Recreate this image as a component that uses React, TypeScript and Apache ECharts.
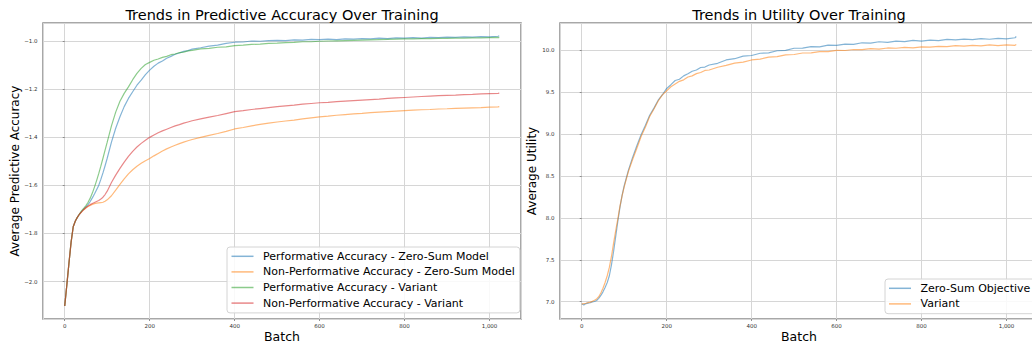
import React, { useEffect, useRef } from "react";
import * as echarts from "echarts";

// Training batches at which values were read
const batches = [
  0, 5, 10, 15, 20, 25, 30, 35, 40, 45, 50, 55, 60, 65, 70, 75, 80, 85, 90, 95, 100,
  110, 120, 130, 140, 150, 160, 170, 180, 190, 200, 210, 220, 230, 240, 250, 260, 270, 280, 290, 300,
  320, 340, 360, 380, 400, 420, 440, 460, 480, 500, 520, 540, 560, 580, 600, 620, 640, 660, 680, 700,
  720, 740, 760, 780, 800, 820, 840, 860, 880, 900, 920, 940, 960, 980, 1000, 1020,
  1023,
];

// Left chart: Average Predictive Accuracy
const perfZeroSum = [
  -2.102, -2.013, -1.923, -1.836, -1.772, -1.748, -1.732, -1.719, -1.708, -1.699, -1.69, -1.68, -1.667, -1.652, -1.636, -1.618, -1.6, -1.575, -1.548, -1.518, -1.487,
  -1.42, -1.362, -1.314, -1.272, -1.238, -1.21, -1.183, -1.162, -1.139, -1.12, -1.104, -1.091, -1.082, -1.071, -1.063, -1.054, -1.049, -1.042, -1.039, -1.033,
  -1.027, -1.02, -1.016, -1.009, -1.004, -1.003, -0.999, -1.0, -0.997, -0.996, -0.997, -0.994, -0.995, -0.992, -0.993, -0.991, -0.993, -0.99, -0.991, -0.989,
  -0.99, -0.987, -0.989, -0.986, -0.987, -0.985, -0.987, -0.984, -0.985, -0.983, -0.984, -0.982, -0.983, -0.981, -0.982, -0.979,
  -0.978,
];
const nonPerfZeroSum = [
  -2.102, -2.013, -1.923, -1.836, -1.772, -1.748, -1.732, -1.719, -1.71, -1.701, -1.694, -1.688, -1.683, -1.679, -1.676, -1.674, -1.673, -1.672, -1.67, -1.666, -1.66,
  -1.643, -1.62, -1.596, -1.573, -1.552, -1.535, -1.52, -1.508, -1.497, -1.488, -1.477, -1.467, -1.457, -1.448, -1.44, -1.433, -1.426, -1.42, -1.414, -1.409,
  -1.4, -1.392, -1.384, -1.375, -1.365, -1.359, -1.352, -1.346, -1.341, -1.336, -1.332, -1.328, -1.323, -1.319, -1.315, -1.312, -1.308, -1.305, -1.302, -1.3,
  -1.297, -1.295, -1.293, -1.291, -1.289, -1.287, -1.285, -1.284, -1.282, -1.281, -1.279, -1.278, -1.277, -1.276, -1.274, -1.273,
  -1.272,
];
const perfVariant = [
  -2.102, -2.013, -1.923, -1.836, -1.772, -1.748, -1.732, -1.718, -1.705, -1.695, -1.684, -1.67, -1.653, -1.632, -1.607, -1.58, -1.551, -1.52, -1.487, -1.453, -1.42,
  -1.352, -1.295, -1.25, -1.217, -1.19, -1.16, -1.134, -1.113, -1.097, -1.088, -1.079, -1.074, -1.067, -1.063, -1.056, -1.053, -1.047, -1.045, -1.04, -1.038,
  -1.032, -1.03, -1.025, -1.023, -1.018, -1.016, -1.013, -1.012, -1.009, -1.008, -1.006, -1.005, -1.002, -1.002, -1.0, -0.999, -0.998, -0.997, -0.996, -0.995,
  -0.994, -0.993, -0.992, -0.991, -0.99, -0.99, -0.989, -0.989, -0.988, -0.988, -0.987, -0.987, -0.986, -0.986, -0.985, -0.984,
  -0.985,
];
const nonPerfVariant = [
  -2.102, -2.013, -1.923, -1.836, -1.772, -1.748, -1.732, -1.719, -1.709, -1.7, -1.692, -1.686, -1.68, -1.675, -1.671, -1.667, -1.663, -1.657, -1.649, -1.638, -1.624,
  -1.588, -1.557, -1.529, -1.503, -1.479, -1.458, -1.44, -1.425, -1.412, -1.4, -1.39, -1.381, -1.373, -1.366, -1.359, -1.352, -1.347, -1.341, -1.336, -1.331,
  -1.323, -1.316, -1.309, -1.301, -1.293, -1.289, -1.284, -1.28, -1.276, -1.272, -1.269, -1.266, -1.262, -1.259, -1.256, -1.254, -1.251, -1.249, -1.247, -1.245,
  -1.243, -1.241, -1.238, -1.236, -1.234, -1.232, -1.23, -1.228, -1.226, -1.225, -1.224, -1.222, -1.221, -1.219, -1.218, -1.217,
  -1.216,
];

// Right chart: Average Utility
const utilZeroSum = [
  6.975, 6.962, 6.978, 6.984, 6.988, 6.998, 7.003, 7.015, 7.04, 7.075, 7.118, 7.17, 7.228, 7.31, 7.44, 7.6, 7.78, 7.96, 8.125, 8.27, 8.385,
  8.57, 8.725, 8.865, 8.995, 9.105, 9.225, 9.31, 9.405, 9.47, 9.545, 9.59, 9.64, 9.655, 9.695, 9.72, 9.75, 9.765, 9.795, 9.8, 9.825,
  9.845, 9.885, 9.9, 9.93, 9.938, 9.965, 9.97, 9.995, 10.0, 10.025, 10.026, 10.045, 10.042, 10.062, 10.06, 10.075, 10.072, 10.09, 10.085, 10.102,
  10.095, 10.11, 10.104, 10.118, 10.11, 10.122, 10.116, 10.13, 10.124, 10.134, 10.128, 10.14, 10.132, 10.142, 10.136, 10.15,
  10.165,
];
const utilVariant = [
  6.972, 6.978, 6.982, 6.99, 6.996, 7.005, 7.018, 7.034, 7.06, 7.105, 7.16, 7.23, 7.31, 7.41, 7.54, 7.7, 7.85, 7.99, 8.14, 8.262, 8.37,
  8.555, 8.7, 8.835, 8.975, 9.085, 9.21, 9.3, 9.395, 9.468, 9.518, 9.565, 9.598, 9.63, 9.648, 9.682, 9.695, 9.722, 9.735, 9.76, 9.765,
  9.798, 9.82, 9.848, 9.86, 9.885, 9.895, 9.918, 9.925, 9.945, 9.95, 9.968, 9.97, 9.985, 9.985, 10.0, 9.998, 10.01, 10.008, 10.02, 10.015,
  10.028, 10.025, 10.036, 10.03, 10.042, 10.038, 10.048, 10.044, 10.055, 10.05, 10.06, 10.052, 10.064, 10.056, 10.066, 10.06,
  10.07,
];

const accuracyNames = [
  "Performative Accuracy - Zero-Sum Model",
  "Non-Performative Accuracy - Zero-Sum Model",
  "Performative Accuracy - Variant",
  "Non-Performative Accuracy - Variant",
];
const utilityNames = ["Zero-Sum Objective", "Variant"];

const FONT = "DejaVu Sans";
const C_BLUE = "rgba(31,119,180,0.55)";
const C_ORANGE = "rgba(255,127,14,0.55)";
const C_GREEN = "rgba(44,160,44,0.55)";
const C_RED = "rgba(214,39,40,0.55)";

const pairs = (ys: number[]) => batches.map((b, i) => [b, ys[i]]);
const fmt = (v: number) => (v < 0 ? "\u2212" + Math.abs(v).toFixed(1) : v.toFixed(1));

function xAxisFor(gridIndex: number) {
  return {
    type: "value",
    gridIndex,
    min: -51.15,
    max: 1074.15,
    splitNumber: 5,
    name: "Batch",
    nameLocation: "middle",
    nameGap: 11.5,
    nameMoveOverlap: false,
    nameTextStyle: { fontFamily: FONT, fontSize: 12.5, color: "#000", verticalAlign: "top", lineHeight: 12.5 },
    axisLine: { show: false },
    axisTick: { show: true, length: 2, lineStyle: { color: "#777", width: 0.8 } },
    axisLabel: {
      margin: 4,
      fontFamily: FONT,
      fontSize: 5.5,
      color: "#333",
      showMinLabel: false,
      showMaxLabel: false,
    },
    splitLine: { show: true, lineStyle: { color: "#d6d6d6", width: 1 } },
  };
}

function yAxisFor(gridIndex: number, name: string, min: number, max: number, splitNumber: number) {
  return {
    type: "value",
    gridIndex,
    min,
    max,
    splitNumber,
    name,
    nameLocation: "middle",
    nameGap: 22,
    nameMoveOverlap: false,
    nameTextStyle: { fontFamily: FONT, fontSize: 12, color: "#000" },
    axisLine: { show: false },
    axisTick: { show: true, length: 2, lineStyle: { color: "#777", width: 0.8 } },
    axisLabel: {
      margin: 5.5,
      fontFamily: FONT,
      fontSize: 5.5,
      color: "#333",
      showMinLabel: false,
      showMaxLabel: false,
      formatter: fmt,
    },
    splitLine: { show: true, lineStyle: { color: "#d6d6d6", width: 1 } },
  };
}

function lineSeries(name: string, data: number[], color: string, gridIdx: number) {
  return {
    name,
    type: "line",
    xAxisIndex: gridIdx,
    yAxisIndex: gridIdx,
    data: pairs(data),
    showSymbol: false,
    symbol: "none",
    color,
    lineStyle: { width: 1.2, color },
    itemStyle: { color },
    emphasis: { disabled: true },
    silent: true,
  };
}

const legendBase = {
  orient: "vertical",
  icon: "rect",
  itemWidth: 22,
  itemHeight: 1.5,
  itemGap: 0,
  backgroundColor: "rgba(255,255,255,0.85)",
  borderColor: "#d4d4d4",
  borderWidth: 1,
  borderRadius: 3,
  textStyle: { fontFamily: FONT, fontSize: 11, color: "#000", lineHeight: 15.6, padding: [0, 0, 0, 4.5] },
};

export default function App() {
  const ref = useRef<HTMLDivElement>(null);
  useEffect(() => {
    if (!ref.current) return;
    const chart = echarts.init(ref.current, null, { renderer: "svg" });
    chart.setOption({
      animation: false,
      backgroundColor: "#fff",
      title: [
        {
          text: "Trends in Predictive Accuracy Over Training",
          left: 282,
          top: 7,
          textAlign: "center",
          padding: 0,
          textStyle: { fontFamily: FONT, fontSize: 14.5, fontWeight: "normal", color: "#000" },
        },
        {
          text: "Trends in Utility Over Training",
          left: 799,
          top: 7,
          textAlign: "center",
          padding: 0,
          textStyle: { fontFamily: FONT, fontSize: 14.5, fontWeight: "normal", color: "#000" },
        },
      ],
      grid: [
        { left: 43, top: 23, width: 478, height: 296, show: true, borderColor: "#8c8c8c", borderWidth: 1.5, backgroundColor: "transparent", containLabel: false, outerBoundsMode: "none" },
        { left: 560, top: 23, width: 478, height: 296, show: true, borderColor: "#8c8c8c", borderWidth: 1.5, backgroundColor: "transparent", containLabel: false, outerBoundsMode: "none" },
      ],
      xAxis: [xAxisFor(0), xAxisFor(1)],
      yAxis: [
        yAxisFor(0, "Average Predictive Accuracy", -2.156, -0.924, 5),
        yAxisFor(1, "Average Utility", 6.794, 10.326, 7),
      ],
      legend: [
        { ...legendBase, data: accuracyNames, left: 227, top: 247, padding: [1.5, 5, 2, 4.5] },
        { ...legendBase, data: utilityNames, left: 885, top: 279, padding: [1.5, 20, 2, 4] },
      ],
      series: [
        lineSeries(accuracyNames[0], perfZeroSum, C_BLUE, 0),
        lineSeries(accuracyNames[1], nonPerfZeroSum, C_ORANGE, 0),
        lineSeries(accuracyNames[2], perfVariant, C_GREEN, 0),
        lineSeries(accuracyNames[3], nonPerfVariant, C_RED, 0),
        lineSeries(utilityNames[0], utilZeroSum, C_BLUE, 1),
        lineSeries(utilityNames[1], utilVariant, C_ORANGE, 1),
      ],
    });
    return () => chart.dispose();
  }, []);
  return <div ref={ref} style={{ position: "fixed", left: 0, top: 0, width: 1032, height: 344 }} />;
}
